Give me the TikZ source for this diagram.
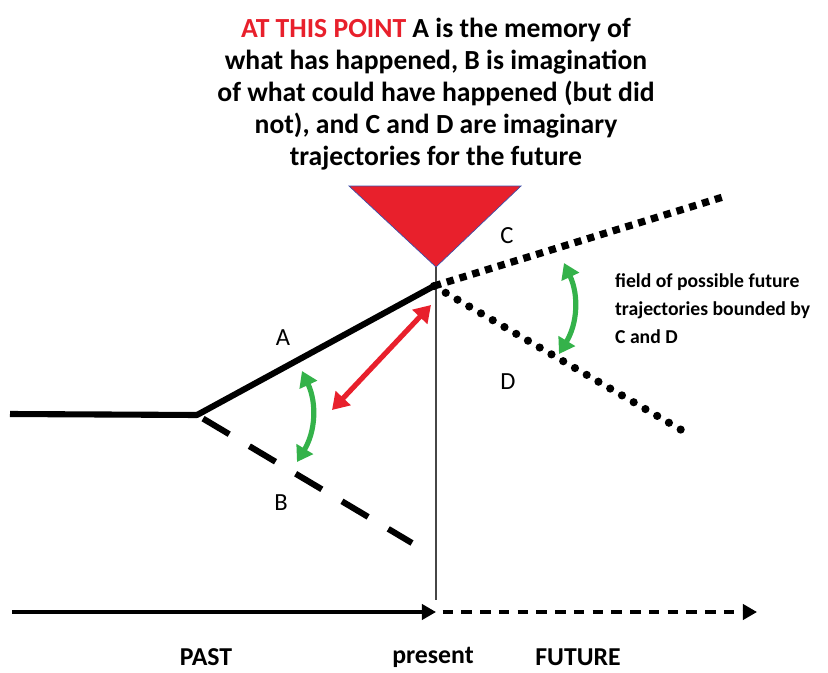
\documentclass[tikz,border=0pt]{standalone}
\usepackage{fontspec}
\setmainfont{Carlito}
\usetikzlibrary{arrows.meta,positioning}
\definecolor{pointred}{RGB}{232,32,44}
\definecolor{edgeblue}{RGB}{60,80,170}
\definecolor{swinggreen}{RGB}{52,178,74}
\definecolor{axisgray}{RGB}{70,70,70}

\begin{document}
\begin{tikzpicture}[x=0.03cm, y=-0.03cm,
    path/.style={line width=5.2pt, black},
    swing/.style={{Triangle[length=13pt,width=16pt]}-{Triangle[length=13pt,width=16pt]},
                  line width=4.4pt, swinggreen},
    letter/.style={font=\fontsize{21}{24}\selectfont}]
  \useasboundingbox (0,0) rectangle (828,673);

  % heading above the present point
  \node[align=center, font=\bfseries\fontsize{23.6}{27.3}\selectfont] (head) at (436,94)
    {\textcolor{pointred}{AT THIS POINT} A is the memory of\\
     what has happened, B is imagination\\
     of what could have happened (but did\\
     not), and C and D are imaginary\\
     trajectories for the future};
  \draw[fill=pointred, draw=edgeblue, line width=0.6pt] (349,186) -- (521,186) -- (436,267) -- cycle;
  \coordinate (apex) at (436,267);

  % present line and trajectories
  \coordinate (now) at (434,286);
  \coordinate (fork) at (197,415);
  \coordinate (axnow) at (436,600);
  \draw[axisgray, line width=1.2pt] (apex) -- (axnow);
  \draw[path] (10,414) -- (fork);
  \draw[path, line cap=round] (fork) -- (now);
  \draw[path, dash pattern=on 26pt off 20pt, dash phase=-6pt] (fork) -- (412,543) coordinate (bend);
  \draw[line width=6.2pt, dash pattern=on 6.2pt off 5.2pt] (now) -- (723,197) coordinate (cend);
  \draw[line width=7pt, line cap=round, dash pattern=on 0pt off 11.6pt] (now) -- (690,435) coordinate (dend);

  \node[letter] (lblA) at (283,338) {A};
  \node[letter] (lblB) at (281,503) {B};
  \node[letter] (lblC) at (507,236) {C};
  \node[letter] (lblD) at (508,382) {D};

  % comparisons
  \coordinate (rtail) at (332,410);
  \coordinate (rhead) at (431,305);
  \draw[{Triangle[length=14pt,width=17pt]}-{Triangle[length=14pt,width=17pt]},
        line width=4.4pt, pointred] (rtail) -- (rhead);
  \coordinate (gl1) at (302,371);
  \coordinate (gl2) at (297,462);
  \draw[swing] (gl1) to[bend left=28] (gl2);
  \coordinate (gr1) at (564,263);
  \coordinate (gr2) at (559,354);
  \draw[swing] (gr1) to[bend left=28] (gr2);

  \node[anchor=west, align=left, font=\bfseries\fontsize{16.8}{24}\selectfont] (field) at (611,309)
    {field of possible future\\ trajectories bounded by\\ C and D};

  % time axis
  \coordinate (tstart) at (12,612);
  \coordinate (tnow) at (436,612);
  \coordinate (tend) at (757,612);
  \draw[-{Triangle[length=12pt,width=13pt]}, line width=2.8pt] (tstart) -- (tnow);
  \draw[-{Triangle[length=12pt,width=13pt]}, line width=2.8pt, dash pattern=on 9pt off 7pt]
    ([xshift=0.2cm]tnow) -- (tend);

  \node[font=\bfseries\fontsize{22}{26}\selectfont] (past) at (206,657) {PAST};
  \node[font=\bfseries\fontsize{22}{26}\selectfont] (present) at (433,657) {present};
  \node[font=\bfseries\fontsize{22}{26}\selectfont] (future) at (578,657) {FUTURE};
\end{tikzpicture}
\end{document}
